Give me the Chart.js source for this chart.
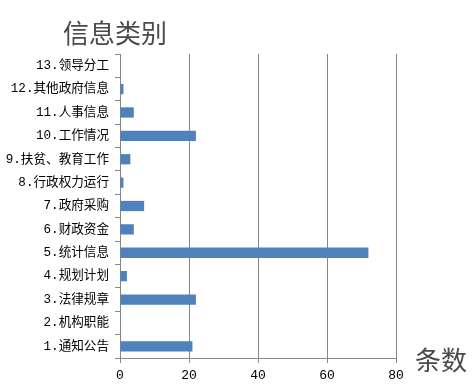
<!DOCTYPE html>
<html><head><meta charset="utf-8">
<script src="https://cdn.jsdelivr.net/npm/chart.js@4/dist/chart.umd.min.js"></script>
<style>html,body{margin:0;padding:0;background:#fff}#wrap{width:474px;height:389px;position:relative}</style>
</head><body><div id="wrap"><canvas id="c" width="474" height="389"></canvas></div>
<script>
const categories = ["13.领导分工","12.其他政府信息","11.人事信息","10.工作情况","9.扶贫、教育工作","8.行政权力运行","7.政府采购","6.财政资金","5.统计信息","4.规划计划","3.法律规章","2.机构职能","1.通知公告"];
const counts = [0,1,4,22,3,1,7,4,72,2,22,0,21];
const xTicks = [0,20,40,60,80];
const chartTitle = "信息类别";
const axisTitle = "条数";

const font = "'Noto Sans CJK SC','Noto Sans',sans-serif";
const labelFont = "'Liberation Mono','Noto Sans CJK SC',sans-serif";
const textPlugin = {
  id:'texts',
  afterDraw(chart){
    const ctx = chart.ctx;
    ctx.save();
    ctx.fillStyle = '#4a4a4a';
    ctx.font = "26px " + font;
    ctx.textBaseline = 'middle';
    ctx.textAlign = 'left';
    ctx.fillText(chartTitle, 63, 33);
    ctx.fillText(axisTitle, 415, 360);
    ctx.restore();
  }
};
new Chart(document.getElementById('c'), {
  type:'bar',
  data:{labels:categories, datasets:[{data:counts, backgroundColor:'#4F81BD', barPercentage:0.44, categoryPercentage:1}]},
  options:{
    indexAxis:'y', responsive:false, animation:false,
    layout:{padding:{top:54,right:78,left:0,bottom:0}},
    plugins:{legend:{display:false}, tooltip:{enabled:false}},
    scales:{
      x:{min:0,max:80,
        afterBuildTicks(s){s.ticks = xTicks.map(v=>({value:v}));},
        afterFit(s){s.height=31;},
        grid:{color:'#868686',lineWidth:1,tickLength:5,drawOnChartArea:true},
        border:{color:'#868686'},
        ticks:{color:'#000',font:{family:labelFont,size:13},padding:5,maxRotation:0}
      },
      y:{
        afterFit(s){s.width=120;},
        grid:{offset:true,drawOnChartArea:false,color:'#868686',tickLength:5},
        border:{color:'#868686'},
        ticks:{color:'#000',font:{family:labelFont,size:12.6},padding:6,autoSkip:false}
      }
    }
  },
  plugins:[textPlugin]
});
</script></body></html>
